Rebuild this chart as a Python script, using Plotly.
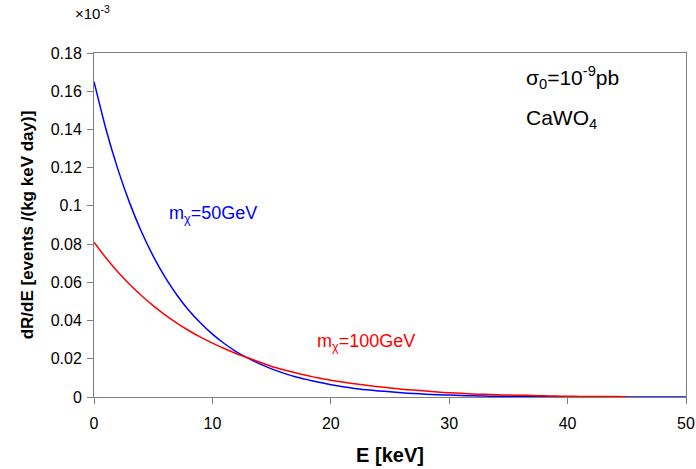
import plotly.graph_objects as go

# Energy grid (keV)
energy_blue = list(range(0, 51))
energy_red = list(range(0, 46))

# dR/dE in units of 1e-3 events/(kg keV day)
rate_50gev = [0.1650, 0.1404, 0.1195, 0.1017, 0.0866, 0.0737, 0.0627, 0.0534, 0.0454, 0.0387,
              0.0329, 0.0280, 0.0238, 0.0203, 0.0173, 0.0147, 0.0125, 0.0106, 0.0091, 0.0077,
              0.0064, 0.0054, 0.0045, 0.0038, 0.0032, 0.0027, 0.0022, 0.0018, 0.0015, 0.0012,
              0.0010, 0.0008, 0.0006, 0.0005, 0.0004, 0.0003, 0.0002, 0.0002, 0.0001, 0.0001,
              0.0001, 0.0, 0.0, 0.0, 0.0, 0.0, 0.0, 0.0, 0.0, 0.0, 0.0]
rate_100gev = [0.0810, 0.0729, 0.0656, 0.0590, 0.0531, 0.0478, 0.0430, 0.0387, 0.0348, 0.0313,
               0.0282, 0.0254, 0.0228, 0.0205, 0.0182, 0.0160, 0.0143, 0.0127, 0.0112, 0.0099,
               0.0088, 0.0078, 0.0069, 0.0061, 0.0054, 0.0047, 0.0041, 0.0036, 0.0031, 0.0026,
               0.0022, 0.0019, 0.0016, 0.0014, 0.0012, 0.0010, 0.0009, 0.0008, 0.0006, 0.0005,
               0.0004, 0.0003, 0.0003, 0.0002, 0.0002, 0.0001]

x_ticks = [0, 10, 20, 30, 40, 50]
y_ticks = [0, 0.02, 0.04, 0.06, 0.08, 0.1, 0.12, 0.14, 0.16, 0.18]
y_tick_labels = ["0", "0.02", "0.04", "0.06", "0.08", "0.1", "0.12", "0.14", "0.16", "0.18"]

FONT = "Liberation Sans, Arial, sans-serif"

fig = go.Figure()
fig.add_trace(go.Scatter(x=energy_blue, y=rate_50gev, mode="lines",
                         line=dict(color="#0000FF", width=1.5, shape="spline", smoothing=0.6),
                         showlegend=False))
fig.add_trace(go.Scatter(x=energy_red, y=rate_100gev, mode="lines",
                         line=dict(color="#FF0000", width=1.5, shape="spline", smoothing=0.6),
                         showlegend=False))

axis_common = dict(showline=True, linecolor="#808080", linewidth=1, mirror=True,
                   showgrid=False, zeroline=False, ticks="outside", ticklen=6,
                   tickcolor="#808080", automargin=False,
                   tickfont=dict(family=FONT, size=16, color="black"))

fig.update_xaxes(range=[0, 50], tickvals=x_ticks, ticklabelstandoff=6,
                 title=dict(text="<b>E [keV]</b>", font=dict(family=FONT, size=20, color="black"), standoff=16),
                 **axis_common)
fig.update_yaxes(range=[0, 0.18], tickvals=y_ticks, ticktext=y_tick_labels, ticklabelstandoff=2,
                 title=dict(text="<b>dR/dE [events /(kg keV day)]</b>", font=dict(family=FONT, size=17, color="black"), standoff=12),
                 **axis_common)

fig.update_layout(
    width=696, height=469,
    margin=dict(l=94, r=10, t=53, b=72),
    plot_bgcolor="white", paper_bgcolor="white",
    annotations=[
        dict(text="×10<sup>-3</sup>", xref="paper", yref="paper", x=-0.035, y=1.085,
             xanchor="left", yanchor="bottom", showarrow=False,
             font=dict(family=FONT, size=15, color="black")),
        dict(text="σ<sub>0</sub>=10<sup>-9</sup>pb", xref="x", yref="y", x=36.3, y=0.167,
             xanchor="left", yanchor="middle", showarrow=False,
             font=dict(family=FONT, size=21, color="black")),
        dict(text="CaWO<sub>4</sub>", xref="x", yref="y", x=36.3, y=0.1455,
             xanchor="left", yanchor="middle", showarrow=False,
             font=dict(family=FONT, size=21, color="black")),
        dict(text="m<sub>χ</sub>=50GeV", xref="x", yref="y", x=6.2, y=0.0955,
             xanchor="left", yanchor="middle", showarrow=False,
             font=dict(family=FONT, size=18, color="#0000FF")),
        dict(text="m<sub>χ</sub>=100GeV", xref="x", yref="y", x=18.7, y=0.0285,
             xanchor="left", yanchor="middle", showarrow=False,
             font=dict(family=FONT, size=18, color="#FF0000")),
    ],
)

fig.write_html("out.html")
